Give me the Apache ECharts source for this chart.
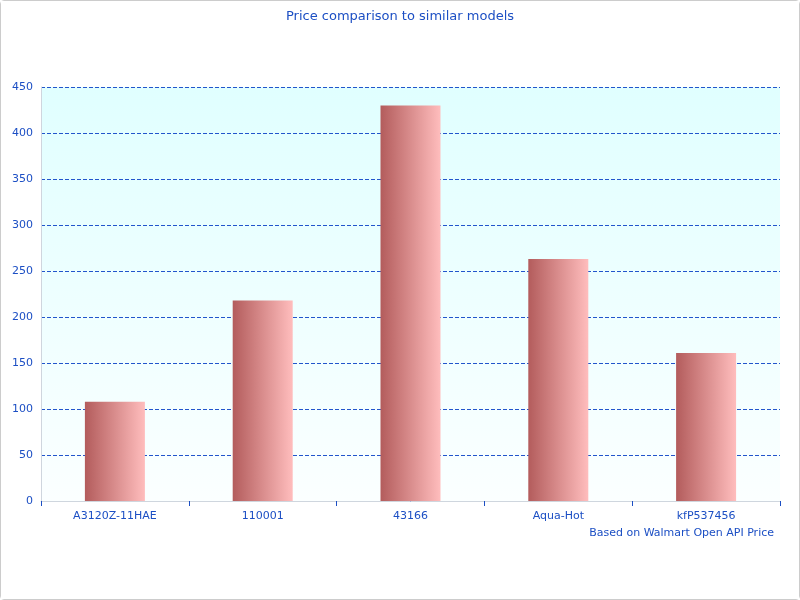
<!DOCTYPE html>
<html>
<head>
<meta charset="utf-8">
<script src="https://cdn.jsdelivr.net/npm/echarts@6/dist/echarts.min.js"></script>
<style>
html, body { margin: 0; padding: 0; background: #fff; }
#chart { width: 798px; height: 598px; border: 1px solid #ccc; border-radius: 4px; }
</style>
</head>
<body>
<div id="chart"></div>
<script>
const models = ['A3120Z-11HAE', '110001', '43166', 'Aqua-Hot', 'kfP537456'];
const prices = [108, 218, 430, 263, 161];

const chart = echarts.init(document.getElementById('chart'));
const blue = '#1c4fc4';
chart.setOption({
    backgroundColor: '#fff',
    textStyle: { fontFamily: 'DejaVu Sans' },
    title: [
        {
            text: 'Price comparison to similar models',
            left: 'center', top: 4,
            textStyle: { color: blue, fontSize: 13, fontWeight: 'normal' },
        },
        {
            text: 'Based on Walmart Open API Price',
            right: 20, top: 522,
            textStyle: { color: blue, fontSize: 11, fontWeight: 'normal' },
        },
    ],
    grid: {
        left: 40, right: 19, top: 86, bottom: 98,
        show: true, borderWidth: 0,
        backgroundColor: new echarts.graphic.LinearGradient(0, 0, 0, 1, [
            { offset: 0, color: '#e0ffff' },
            { offset: 1, color: '#fbffff' },
        ]),
    },
    xAxis: {
        type: 'category',
        data: models,
        axisLine: { lineStyle: { color: '#cfd6de' } },
        axisTick: { show: true, lineStyle: { color: blue } },
        axisLabel: { color: blue, fontSize: 11, margin: 10 },
    },
    yAxis: {
        type: 'value',
        min: 0, max: 450, interval: 50,
        axisLine: { show: true, lineStyle: { color: '#cfd6de' } },
        axisLabel: { color: blue, fontSize: 11 },
        splitLine: { lineStyle: { color: '#2255cc', type: 'dashed' } },
    },
    series: [{
        type: 'bar',
        data: prices,
        barWidth: 60,
        itemStyle: {
            color: new echarts.graphic.LinearGradient(0, 0, 1, 0, [
                { offset: 0, color: '#b35c5c' },
                { offset: 1, color: '#ffbdbd' },
            ]),
        },
    }],
});
</script>
</body>
</html>
